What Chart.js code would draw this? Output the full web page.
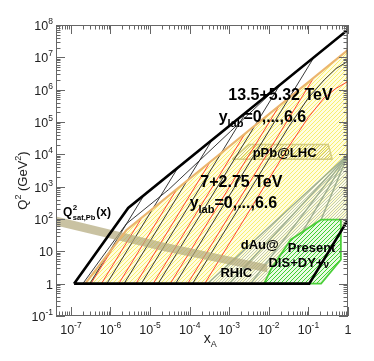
<!DOCTYPE html>
<html>
<head>
<meta charset="utf-8">
<script src="https://cdn.jsdelivr.net/npm/chart.js@4.4.1/dist/chart.umd.min.js"></script>
<style>
  html, body { margin: 0; padding: 0; background: #fff; }
</style>
</head>
<body>
<canvas id="chart" width="374" height="361"></canvas>
<script>
// Kinematic reach of pA collisions in (x_A, Q^2)

const X_MIN = 4.2e-8;
const X_TICK_VALUES = [1e-7, 1e-6, 1e-5, 1e-4, 1e-3, 1e-2, 1e-1, 1];
const X_TICK_BASE = ['10', '10', '10', '10', '10', '10', '10', '1'];
const X_TICK_EXP = ['-7', '-6', '-5', '-4', '-3', '-2', '-1', ''];
const Y_TICK_VALUES = [1e-1, 1, 10, 1e2, 1e3, 1e4, 1e5, 1e6, 1e7, 1e8];
const Y_TICK_BASE = ['10', '1', '10', '10', '10', '10', '10', '10', '10', '10'];
const Y_TICK_EXP = ['-1', '', '', '2', '3', '4', '5', '6', '7', '8'];

// 13.5+5.32 TeV reach (thick black outline)
const LHC14_X = [1.2e-7, 2.8e-6, 1, 1, 0.105, 1.2e-7];
const LHC14_Q2 = [1, 220, 7.2e7, 95, 1, 1];
// 7+2.75 TeV reach (orange edge, yellow hatch)
const LHC7_X = [2.3e-7, 2.5e-6, 1, 1, 0.105, 2.3e-7];
const LHC7_Q2 = [1, 45, 1.7e7, 95, 1, 1];

// y_lab lines, 13.5 TeV (black): from Q2 = 1 to the reach edge
const BLACK_START_X = [4.4e-5, 1.6e-5, 6.0e-6, 2.2e-6, 8.1e-7, 3.0e-7];
const BLACK_END_X = [0.138, 0.019, 2.6e-3, 3.5e-4, 4.8e-5, 6.6e-6];
const BLACK_END_Q2 = [1.0e7, 1.4e6, 1.9e5, 2.5e4, 3.5e3, 4.8e2];
const BLACK_Y0_X = [1.18e-4, 0.032, 0.1, 0.25, 0.5, 1];
const BLACK_Y0_Q2 = [1, 7.2e4, 5.6e5, 2.0e6, 4.5e6, 7.6e6];
const BLACK_EDGE_X = [2.0e-7, 2.5e-6, 2.95e-5, 1.07e-3, 0.0158];
const BLACK_EDGE_Q2 = [1, 70, 813, 5.1e4, 1.15e6];

// y_lab lines, 7 TeV (red)
const RED_START_X = [8.9e-5, 3.24e-5, 1.2e-5, 4.4e-6, 1.62e-6, 5.9e-7, 3.2e-7];
const RED_END_X = [0.135, 0.0178, 2.45e-3, 3.2e-4, 4.5e-5, 5.9e-6, 1.26e-6];
const RED_END_Q2 = [2.3e6, 3.0e5, 4.2e4, 5.5e3, 760, 100, 15];
const RED_Y0_X = [2.4e-4, 0.032, 0.1, 0.25, 0.5, 1];
const RED_Y0_Q2 = [1, 1.74e4, 1.4e5, 5.6e5, 1.1e6, 1.8e6];

// dAu@RHIC
const RHIC_X = [2.8e-4, 1, 1, 0.105];
const RHIC_Q2 = [1, 9.8e3, 95, 1];
const RHIC_FAN_X = [2.8e-4, 1.0e-3, 3.5e-3, 0.012, 0.045];
const RHIC_APEX = [1, 9.8e3];

// pPb@LHC data
const PPB_X = [1.2e-3, 3.16e-3, 0.316, 0.398];
const PPB_Q2 = [7.1e3, 2.0e4, 2.0e4, 7.1e3];

// present DIS + DY + nu
const DIS_X = [7.6e-3, 0.0112, 0.0355, 0.209, 0.66, 0.66, 0.209];
const DIS_Q2 = [1, 2.7, 23, 95, 95, 5.5, 1];

// Q2_sat,Pb(x) band
const SAT_X = [4.2e-8, 2.0e-5, 9.1e-3, 9.1e-3, 2.0e-5, 4.2e-8];
const SAT_Q2 = [120, 19, 3.9, 2.24, 10.5, 63];

const FONT = "'Liberation Sans', Arial, Helvetica, sans-serif";

function pts(xs, ys) {
  return xs.map((x, i) => ({ x: x, y: ys[i] }));
}

// crisp 1px "////" hatch tile on an optional background, ROOT style
function hatch(color, gap, bg) {
  const c = document.createElement('canvas');
  c.width = gap;
  c.height = gap;
  const g = c.getContext('2d');
  if (bg) {
    g.fillStyle = bg;
    g.fillRect(0, 0, gap, gap);
  }
  g.fillStyle = color;
  for (let i = 0; i < gap; i++) g.fillRect(i, gap - 1 - i, 1, 1);
  return document.getElementById('chart').getContext('2d').createPattern(c, 'repeat');
}

function area(xs, ys, fillStyle, edge, edgeWidth, order) {
  const data = pts(xs, ys);
  data.push(data[0]);
  return {
    data: data, fill: 'shape', backgroundColor: fillStyle,
    borderColor: edge || 'rgba(0,0,0,0)', borderWidth: edgeWidth || 0,
    pointRadius: 0, tension: 0, order: order
  };
}

function path(xs, ys, color, width, order) {
  return {
    data: pts(xs, ys), fill: false, borderColor: color, borderWidth: width,
    pointRadius: 0, tension: 0, order: order
  };
}

const datasets = [];
datasets.push(area(LHC7_X, LHC7_Q2, hatch('#f8ef6e', 4, '#fffde0'), null, 0, 20));
datasets.push(area(RHIC_X, RHIC_Q2, hatch('#c3cbb3', 3, 'rgba(255,255,235,0.6)'), null, 0, 19));
RHIC_FAN_X.forEach(function (x0) {
  datasets.push(path([x0, RHIC_APEX[0]], [1, RHIC_APEX[1]], '#9fb090', 1.4, 18));
});
datasets.push(area(PPB_X, PPB_Q2, hatch('#d2c970', 3), '#d4cc80', 1.5, 17));
BLACK_START_X.forEach(function (x0, i) {
  datasets.push(path([x0, BLACK_END_X[i]], [1, BLACK_END_Q2[i]], '#222', 0.9, 16));
});
RED_START_X.forEach(function (x0, i) {
  datasets.push(path([x0, RED_END_X[i]], [1, RED_END_Q2[i]], '#ff3322', 0.9, 16));
});
datasets.push(path(BLACK_Y0_X, BLACK_Y0_Q2, '#222', 0.9, 16));
datasets.push(path(BLACK_EDGE_X, BLACK_EDGE_Q2, '#222', 0.9, 16));
datasets.push(path(RED_Y0_X, RED_Y0_Q2, '#ff3322', 0.9, 16));
datasets.push(area(DIS_X, DIS_Q2, hatch('#3fd02f', 4, '#e8fae2'), '#4ccf3a', 1.8, 15));
datasets.push(area(SAT_X, SAT_Q2, 'rgba(178,168,122,0.7)', null, 0, 14));
datasets.push(path(LHC7_X.slice(0, 3), LHC7_Q2.slice(0, 3), '#ebb56e', 2.2, 13));
datasets.push(path(LHC14_X, LHC14_Q2, '#000', 2.6, 12));

// text labels, anchored in data coordinates: [x, Q2, parts]
const LABELS = [
  [9.5e-4, 4.9e5, [['13.5+5.32 TeV', 16, 0]]],
  [5.4e-4, 1.0e5, [['y', 16, 0], ['lab', 11, 5], ['=0,...,6.6', 16, 0]]],
  [3.9e-3, 8.1e3, [['pPb@LHC', 13, 0]]],
  [1.86e-4, 1.0e3, [['7+2.75 TeV', 16, 0]]],
  [1.0e-4, 224, [['y', 16, 0], ['lab', 11, 5], ['=0,...,6.6', 16, 0]]],
  [1.95e-3, 12, [['dAu@', 13, 0]]],
  [6.0e-4, 1.62, [['RHIC', 13, 0]]],
  [0.030, 9.3, [['Present', 13, 0]]],
  [9.8e-3, 3.3, [['DIS+DY+', 13, 0], ['\u03bd', 10, 1]]]
];

function drawParts(ctx, parts, x, y, weight) {
  let cx = x;
  parts.forEach(function (p) {
    ctx.font = weight + ' ' + p[1] + 'px ' + FONT;
    ctx.fillText(p[0], cx, y + p[2]);
    cx += ctx.measureText(p[0]).width;
  });
  return cx - x;
}

function partsWidth(ctx, parts, weight) {
  let w = 0;
  parts.forEach(function (p) {
    ctx.font = weight + ' ' + p[1] + 'px ' + FONT;
    w += ctx.measureText(p[0]).width;
  });
  return w;
}

const framePlugin = {
  id: 'frame',
  afterDatasetsDraw(chart) {
    const ctx = chart.ctx;
    const a = chart.chartArea;
    const xs = chart.scales.x;
    const ys = chart.scales.y;
    ctx.save();

    // axis frame + inward ticks on all four sides
    ctx.strokeStyle = '#666';
    ctx.lineWidth = 1;
    ctx.strokeRect(a.left + 0.5, a.top + 0.5, a.right - a.left - 1, a.bottom - a.top - 1);
    ctx.beginPath();
    for (let e = -8; e <= 0; e++) {
      for (let m = 1; m < 10; m++) {
        const v = m * Math.pow(10, e);
        if (v < xs.min * 0.999 || v > xs.max * 1.001) continue;
        const px = Math.round(xs.getPixelForValue(v)) + 0.5;
        const len = m === 1 ? 9 : 4.5;
        ctx.moveTo(px, a.bottom); ctx.lineTo(px, a.bottom - len);
        ctx.moveTo(px, a.top); ctx.lineTo(px, a.top + len);
      }
    }
    for (let e = -1; e <= 8; e++) {
      for (let m = 1; m < 10; m++) {
        const v = m * Math.pow(10, e);
        if (v < ys.min * 0.999 || v > ys.max * 1.001) continue;
        const py = Math.round(ys.getPixelForValue(v)) + 0.5;
        const len = m === 1 ? 9 : 4.5;
        ctx.moveTo(a.left, py); ctx.lineTo(a.left + len, py);
        ctx.moveTo(a.right, py); ctx.lineTo(a.right - len, py);
      }
    }
    ctx.stroke();

    // tick labels with raised exponents
    ctx.fillStyle = '#222';
    ctx.textBaseline = 'alphabetic';
    ctx.textAlign = 'left';
    X_TICK_VALUES.forEach(function (v, i) {
      const parts = [[X_TICK_BASE[i], 12.5, 0], [X_TICK_EXP[i], 8.5, -6]];
      const w = partsWidth(ctx, parts, 'normal');
      drawParts(ctx, parts, xs.getPixelForValue(v) - w / 2, a.bottom + 18, 'normal');
    });
    Y_TICK_VALUES.forEach(function (v, i) {
      const parts = [[Y_TICK_BASE[i], 12.5, 0], [Y_TICK_EXP[i], 8.5, -6]];
      const w = partsWidth(ctx, parts, 'normal');
      drawParts(ctx, parts, a.left - 3 - w, ys.getPixelForValue(v) + 5, 'normal');
    });

    // axis titles
    const xt = [['x', 14, 0], ['A', 9, 4]];
    drawParts(ctx, xt, xs.getPixelForValue(1e-3 * 0.33) - partsWidth(ctx, xt, 'normal') / 2, 343, 'normal');
    const yt = [['Q', 13, 0], ['2', 9, -6], [' (GeV', 13, 0], ['2', 9, -6], [')', 13, 0]];
    ctx.save();
    ctx.translate(27, (a.top + a.bottom) / 2 + 10);
    ctx.rotate(-Math.PI / 2);
    drawParts(ctx, yt, -partsWidth(ctx, yt, 'normal') / 2, 0, 'normal');
    ctx.restore();

    // annotations
    ctx.fillStyle = '#000';
    LABELS.forEach(function (l) {
      drawParts(ctx, l[2], xs.getPixelForValue(l[0]), ys.getPixelForValue(l[1]), 'bold');
    });

    // Q2_sat,Pb(x) label with stacked super/subscript
    const qx = xs.getPixelForValue(6.3e-8);
    const qy = ys.getPixelForValue(126);
    ctx.font = 'bold 12px ' + FONT;
    ctx.fillText('Q', qx, qy);
    let cx = qx + ctx.measureText('Q').width + 0.5;
    ctx.font = 'bold 8px ' + FONT;
    ctx.fillText('2', cx, qy - 6);
    ctx.font = 'bold 7.5px ' + FONT;
    ctx.fillText('sat,Pb', cx, qy + 4);
    cx += ctx.measureText('sat,Pb').width + 1;
    ctx.font = 'bold 12px ' + FONT;
    ctx.fillText('(x)', cx, qy);

    ctx.restore();
  }
};

new Chart(document.getElementById('chart'), {
  type: 'line',
  data: { datasets: datasets },
  options: {
    responsive: false,
    animation: false,
    events: [],
    layout: { padding: { left: 0, right: 26, top: 25, bottom: 0 } },
    plugins: { legend: { display: false }, tooltip: { enabled: false } },
    scales: {
      x: {
        type: 'logarithmic', min: X_MIN, max: 1,
        afterBuildTicks: function (s) { s.ticks = X_TICK_VALUES.map(function (v) { return { value: v }; }); },
        afterFit: function (s) { s.height = 45; },
        ticks: { display: false }, grid: { display: false }, border: { display: false }
      },
      y: {
        type: 'logarithmic', min: 0.1, max: 1e8,
        afterBuildTicks: function (s) { s.ticks = Y_TICK_VALUES.map(function (v) { return { value: v }; }); },
        afterFit: function (s) { s.width = 56; },
        ticks: { display: false }, grid: { display: false }, border: { display: false }
      }
    }
  },
  plugins: [framePlugin]
});
</script>
</body>
</html>
